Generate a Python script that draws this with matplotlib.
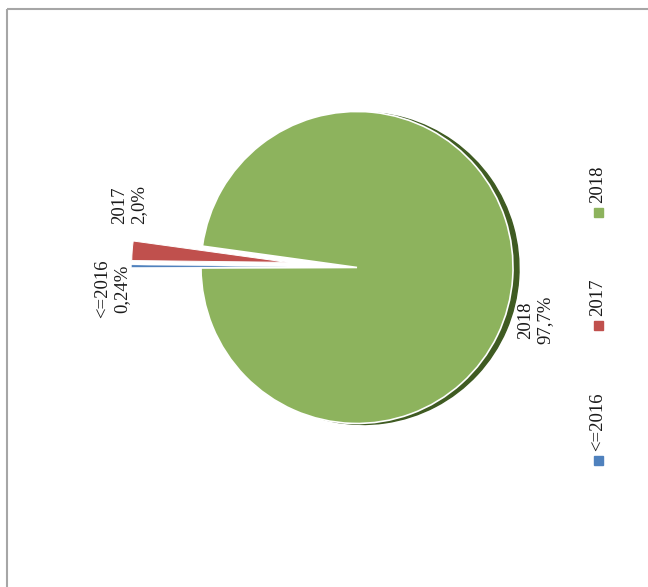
import matplotlib.pyplot as plt
from matplotlib.patches import Rectangle, Wedge

# data
categories = ['<=2016', '2017', '2018']
shares = [0.24, 2.0, 97.7]
share_labels = ['0,24%', '2,0%', '97,7%']
colors = ['#4f81bd', '#c0504d', '#8db35d']

W, H = 648, 587
fig = plt.figure(figsize=(W / 100, H / 100), dpi=100)
ax = fig.add_axes([0, 0, 1, 1])

def iy(y):
    # image row -> data y
    return H - y

# outer frame (only top and left visible in the reference)
ax.plot([7, W], [iy(8.5), iy(8.5)], color='#a6a6a6', lw=1.5, solid_capstyle='butt')
ax.plot([7, 7], [iy(8.5), 0], color='#a6a6a6', lw=1.5, solid_capstyle='butt')

cx, cy, r = 350, iy(267), 156

# pie() takes explode in data units when radius is given
expl = [0.40 * r, 0.40 * r, 0.045 * r]

wedges, _ = ax.pie(shares, colors=colors, startangle=180.2, counterclock=False,
                   explode=expl, center=(cx, cy), radius=r,
                   wedgeprops=dict(edgecolor='white', linewidth=1.2), frame=True)
for w in wedges:
    w.set_zorder(2)
wedges[0].set_linewidth(0.2)
wedges[1].set_linewidth(0.7)

# dark rim behind the big slice (same wedge shifted a little)
g = wedges[2]
ax.add_patch(Wedge((g.center[0] + 6, g.center[1] - 1), g.r, g.theta1 + 20, g.theta2 - 20,
                   color='#3f5b22', zorder=1))

ax.axis('off')
ax.set_xlim(0, W)
ax.set_ylim(0, H)
ax.set_aspect('equal')

lab_font = dict(family='Liberation Serif', size=13.5, color='#1a1a1a')
label_pos = [(112, 289), (129, 205), (535, 320)]
for cat, s, (x, y) in zip(categories, share_labels, label_pos):
    ax.text(x, iy(y), cat + '\n' + s, rotation=90, ha='center', va='center',
            multialignment='center', linespacing=1.15, **lab_font)

# legend, rotated like the rest of the chart
leg_sq = [(598, 460), (598, 325), (598, 212)]
for cat, c, (x, y) in zip(categories, colors, leg_sq):
    ax.add_patch(Rectangle((x - 4.5, iy(y) - 4.5), 9, 9, color=c, zorder=3))
    ax.text(x, iy(y) + 9, cat, rotation=90, ha='center', va='bottom', **lab_font)

fig.savefig('out.png', dpi=100, facecolor='white')
